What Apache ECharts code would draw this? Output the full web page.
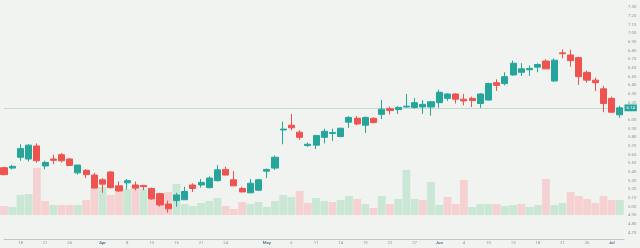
<!DOCTYPE html>
<html><head><meta charset="utf-8">
<script src="https://cdn.jsdelivr.net/npm/echarts/dist/echarts.min.js"></script>
<style>html,body{margin:0;padding:0;background:#f0f3f0}#c{width:640px;height:248px}</style>
</head><body><div id="c"></div>
<script>
const opens=[5.45,5.445,5.57,5.55,5.70,5.47,5.55,5.60,5.55,5.39,
5.42,5.365,5.31,5.40,5.24,5.275,5.25,5.245,5.21,5.15,
5.03,5.07,5.08,5.25,5.25,5.22,5.30,5.43,5.31,5.21,
5.16,5.19,5.41,5.445,5.885,5.94,5.86,5.705,5.71,5.80,
5.845,5.81,5.975,6.02,5.94,6.02,6.065,6.13,6.12,6.15,
6.145,6.15,6.15,6.20,6.25,6.30,6.24,6.25,6.19,6.23,
6.43,6.42,6.52,6.55,6.58,6.61,6.68,6.45,6.775,6.75,
6.72,6.55,6.46,6.36,6.25,6.06];
const closes=[5.37,5.465,5.67,5.71,5.53,5.51,5.535,5.53,5.475,5.48,
5.37,5.215,5.26,5.22,5.18,5.30,5.215,5.23,5.09,5.02,
4.975,5.135,5.175,5.21,5.28,5.33,5.425,5.365,5.24,5.17,
5.27,5.31,5.43,5.57,5.895,5.91,5.80,5.72,5.82,5.87,
5.855,5.905,6.03,5.955,6.03,5.97,6.125,6.11,6.145,6.16,
6.20,6.18,6.21,6.32,6.30,6.24,6.22,6.225,6.30,6.42,
6.40,6.50,6.655,6.59,6.595,6.64,6.59,6.69,6.765,6.685,
6.50,6.46,6.43,6.19,6.09,6.14];
const lows=[5.36,5.43,5.53,5.52,5.51,5.43,5.49,5.51,5.47,5.37,
5.33,5.21,5.16,5.21,5.17,5.20,5.19,5.19,5.08,5.00,
4.93,5.00,5.08,5.17,5.22,5.21,5.29,5.36,5.24,5.165,
5.16,5.18,5.33,5.425,5.72,5.88,5.77,5.69,5.665,5.73,
5.76,5.80,5.91,5.94,5.85,5.96,6.01,6.065,6.07,6.14,
6.13,6.07,6.05,6.14,6.22,6.19,6.17,6.15,6.14,6.225,
6.335,6.40,6.51,6.51,6.51,6.55,6.59,6.44,6.71,6.615,
6.405,6.43,6.335,6.09,6.08,6.025];
const highs=[5.46,5.48,5.72,5.72,5.73,5.53,5.60,5.62,5.56,5.48,
5.43,5.39,5.33,5.41,5.29,5.32,5.29,5.25,5.22,5.16,
5.07,5.16,5.23,5.27,5.32,5.35,5.48,5.46,5.41,5.23,
5.32,5.32,5.44,5.59,5.98,6.07,5.88,5.74,5.83,5.90,
5.90,5.91,6.045,6.045,6.04,6.03,6.23,6.155,6.16,6.30,
6.255,6.23,6.22,6.35,6.31,6.31,6.30,6.27,6.31,6.43,
6.47,6.55,6.685,6.655,6.63,6.655,6.70,6.71,6.815,6.81,
6.73,6.57,6.49,6.395,6.27,6.165];
const volumes=[900,800,2000,2100,4700,1400,1000,1000,1000,1000,
1500,2800,2800,2000,2300,2600,2900,2600,1800,2000,
2300,3100,1100,900,1200,1400,1700,900,600,1300,
1100,1300,800,1400,2000,1800,2400,1200,1700,1400,
1300,1500,1900,1600,1100,700,1900,1100,1600,4500,
1600,1500,3300,1000,1800,1100,3500,800,1100,1100,
1100,900,1000,1100,800,1000,3600,1000,1200,2300,
1900,1600,1200,1900,1500,1500];
const tickIdx=[2,5,8,12,15,18,21,24,27,32,35,38,41,44,47,50,53,56,59,62,65,68,71,74];
const tickText=['18','21','26','Apr','8','13','16','21','24','May','6','11','14','19','22','27','Jun','4','10','13','18','21','26','Jul'];
const monthNames=['Jan','Feb','Mar','Apr','May','Jun','Jul','Aug','Sep','Oct','Nov','Dec'];

const N=opens.length;
const lastClose=closes[N-1];
const UP='#26a69a', DOWN='#ef5350', VUP='#c9e7d4', VDOWN='#f5d1d1';
const FONT='Roboto';
const candleData=opens.map((o,i)=>[i,o,closes[i],lows[i],highs[i]]);
const volData=volumes.map((v,i)=>[i,v]);
const isUpVol=i=> i===0 ? closes[0]>=opens[0] : closes[i]>=closes[i-1];

const chart=echarts.init(document.getElementById('c'),null,{renderer:'canvas'});
chart.setOption({
  backgroundColor:'#f0f3f0',
  animation:false,
  grid:[
    {left:4,right:16,top:7.33,bottom:15.33},
    {left:4,right:16,top:115,bottom:9}
  ],
  xAxis:[
    {type:'value',gridIndex:0,min:0,max:N-0.5,show:false},
    {type:'value',gridIndex:1,min:0,max:N-0.5,interval:1,
     axisLine:{show:true,onZero:false,lineStyle:{color:'#c2c6c5',width:1}},
     axisTick:{show:false},splitLine:{show:false},
     axisLabel:{show:true,margin:2.2,fontSize:4.3,fontFamily:FONT,color:'#8d959b',
       showMinLabel:true,showMaxLabel:true,
       formatter:v=>{const r=Math.round(v); if(Math.abs(v-r)>1e-6) return ''; const k=tickIdx.indexOf(r); if(k<0) return ''; const t=tickText[k]; return monthNames.includes(t)?'{m|'+t+'}':t;},
       rich:{m:{fontSize:4.3,fontFamily:FONT,fontWeight:'bold',color:'#5a7b92'}}}}
  ],
  yAxis:[
    {type:'value',gridIndex:0,position:'right',min:4.7,max:7.3,interval:0.1,
     axisLine:{show:false},axisTick:{show:false},splitLine:{show:false},
     axisLabel:{margin:4,fontSize:4.3,fontFamily:FONT,color:'#8d959b',
       formatter:v=> Math.abs(v-lastClose)<0.05 ? '' : v.toFixed(2)}},
    {type:'value',gridIndex:1,min:-2400,max:10000,show:false}
  ],
  series:[
    {type:'bar',xAxisIndex:1,yAxisIndex:1,data:volData,barWidth:7.8,
     itemStyle:{color:p=>isUpVol(p.dataIndex)?VUP:VDOWN}},
    {type:'candlestick',xAxisIndex:0,yAxisIndex:0,data:candleData,
     encode:{x:0,y:[1,2,3,4]},barWidth:6.6,
     itemStyle:{color:UP,color0:DOWN,borderColor:UP,borderColor0:DOWN,borderWidth:1},
     markLine:{symbol:['none','none'],silent:true,animation:false,z:1,
       data:[{yAxis:lastClose}],
       lineStyle:{color:'#c3dccf',width:1,type:'solid'},
       label:{show:true,position:'end',distance:0.5,formatter:lastClose.toFixed(2),
         backgroundColor:UP,color:'#ffffff',fontSize:4.3,fontFamily:FONT,padding:[1.6,2,1.2,2]}}}
  ]
});
</script></body></html>
